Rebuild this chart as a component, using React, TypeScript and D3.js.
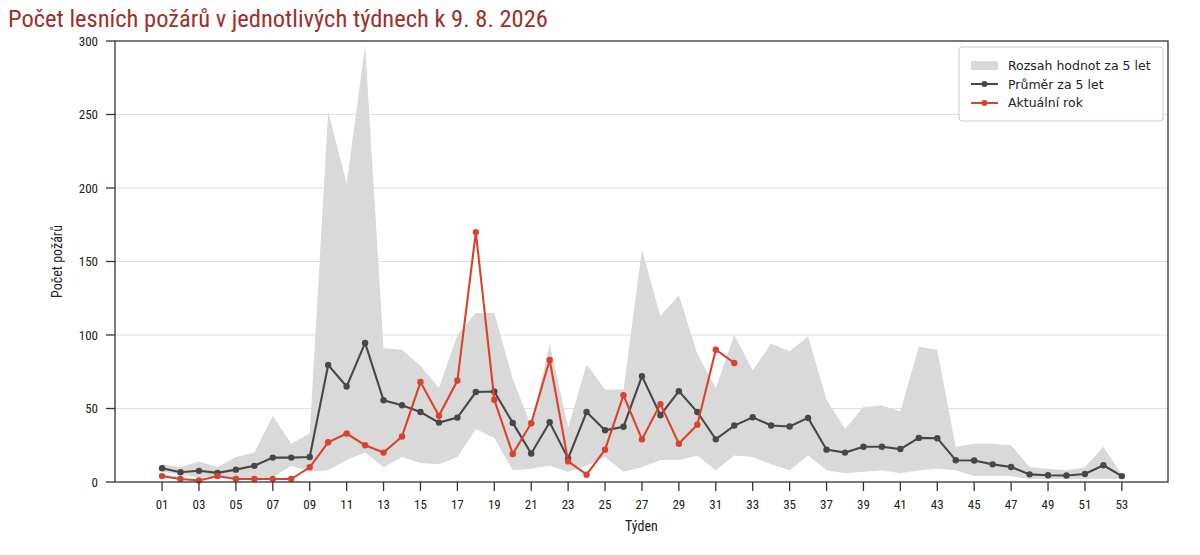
import * as d3 from "d3";

const weeks = [
  1, 2, 3, 4, 5, 6, 7, 8, 9, 10, 11, 12, 13, 14, 15, 16, 17, 18, 19, 20, 21, 22, 23, 24, 25, 26, 27,
  28, 29, 30, 31, 32, 33, 34, 35, 36, 37, 38, 39, 40, 41, 42, 43, 44, 45, 46, 47, 48, 49, 50, 51, 52, 53,
];

const rangeMax = [
  12, 10, 14, 10, 17, 20, 45, 26, 33, 252, 203, 297, 91, 90, 79, 64, 100, 115, 115, 70, 38, 94, 37, 80, 63, 63,
  158, 113, 127, 87, 64, 100, 76, 94, 89, 99, 56, 36, 51, 52, 48, 92, 90, 24, 26, 26, 25, 10, 9, 8, 10, 24, 5,
];

const rangeMin = [
  7, 5, 3, 4, 2, 1, 3, 11, 7, 8, 15, 20, 10, 17, 13, 12, 17, 36, 30, 8, 9, 11, 7, 11, 17, 7, 10, 15, 15, 18, 8,
  18, 17, 12, 8, 18, 8, 6, 7, 8, 6, 8, 9, 8, 4, 4, 4, 2, 2, 2, 2, 2, 2,
];

const avg5 = [
  9.4, 6.6, 7.6, 6.2, 8.4, 11, 16.6, 16.6, 17, 79.6, 65, 94.6, 55.6, 52.2, 47.6, 40.4, 43.8, 61.2, 61.6, 40.2,
  19.4, 40.6, 16, 47.6, 35.2, 37.6, 72, 45.4, 61.8, 47.6, 29, 38.4, 44, 38.4, 37.8, 43.6, 22, 20, 24, 24,
  22.4, 30, 29.8, 14.8, 14.6, 12, 10.2, 5.2, 4.6, 4.4, 5.4, 11.4, 4,
];

const current = [
  4, 2, 1, 4, 2, 2, 2, 2, 10, 27, 33, 25, 20, 31, 68, 45, 69, 170, 56, 19, 40, 83, 14, 5, 22, 59, 29, 53, 26,
  39, 90, 81,
];

const xTicks = [1, 3, 5, 7, 9, 11, 13, 15, 17, 19, 21, 23, 25, 27, 29, 31, 33, 35, 37, 39, 41, 43, 45, 47, 49, 51, 53];
const yTicks = [0, 50, 100, 150, 200, 250, 300];

const legendItems = ["Rozsah hodnot za 5 let", "Průměr za 5 let", "Aktuální rok"];

const W = 1200;
const H = 555;
const plot = { left: 115, right: 1168, top: 41, bottom: 482 };

const RED = "#d9432b";
const DARK = "#474747";
const BAND = "#d9d9d9";
const condensed = "'Liberation Sans Narrow', 'Roboto Condensed', 'Liberation Sans', sans-serif";

export default function App() {
  const x = d3.scaleLinear().domain([-1.55, 55.5]).range([plot.left, plot.right]);
  const y = d3.scaleLinear().domain([0, 300]).range([plot.bottom, plot.top]);

  const band = d3
    .area<number>()
    .x((w) => x(w))
    .y0((_, i) => y(rangeMin[i]))
    .y1((_, i) => y(rangeMax[i]))(weeks);

  const line = d3
    .line<number>()
    .x((_, i) => x(weeks[i]))
    .y((v) => y(v));

  const legX = 959;
  const legY = 47;

  return (
    <svg width={W} height={H} style={{ position: "absolute", left: 0, top: 0 }}>
      <rect width={W} height={H} fill="#fff" />
      <text x={8} y={27} fontFamily={condensed} fontSize={24.5} fill="#9e2f2a">
        Počet lesních požárů v jednotlivých týdnech k 9. 8. 2026
      </text>

      {/* grid */}
      {yTicks.slice(1, -1).map((t) => (
        <line key={t} x1={plot.left} x2={plot.right} y1={y(t)} y2={y(t)} stroke="#e0e0e0" strokeWidth={1} />
      ))}

      <path d={band ?? ""} fill={BAND} />
      <path d={line(avg5) ?? ""} fill="none" stroke={DARK} strokeWidth={2.1} />
      {avg5.map((v, i) => (
        <circle key={"a" + i} cx={x(weeks[i])} cy={y(v)} r={3.2} fill={DARK} />
      ))}
      <path d={line(current) ?? ""} fill="none" stroke={RED} strokeWidth={2.1} />
      {current.map((v, i) => (
        <circle key={"c" + i} cx={x(weeks[i])} cy={y(v)} r={3.2} fill={RED} />
      ))}

      {/* frame */}
      <rect
        x={plot.left}
        y={plot.top}
        width={plot.right - plot.left}
        height={plot.bottom - plot.top}
        fill="none"
        stroke="#333"
        strokeWidth={1.3}
      />

      {/* y axis */}
      {yTicks.map((t) => (
        <g key={t}>
          <line x1={plot.left - 9} x2={plot.left} y1={y(t)} y2={y(t)} stroke="#333" strokeWidth={1.3} />
          <text x={plot.left - 17} y={y(t)} dy="0.35em" textAnchor="end" fontFamily={condensed} fontSize={13} fill="#222">
            {t}
          </text>
        </g>
      ))}
      <text
        transform={`translate(62,${(plot.top + plot.bottom) / 2}) rotate(-90)`}
        textAnchor="middle"
        fontFamily={condensed}
        fontSize={14}
        fill="#222"
      >
        Počet požárů
      </text>

      {/* x axis */}
      {xTicks.map((t) => (
        <g key={t}>
          <line x1={x(t)} x2={x(t)} y1={plot.bottom} y2={plot.bottom + 9} stroke="#333" strokeWidth={1.3} />
          <text x={x(t)} y={plot.bottom + 22} dy="0.35em" textAnchor="middle" fontFamily={condensed} fontSize={13} fill="#222">
            {String(t).padStart(2, "0")}
          </text>
        </g>
      ))}
      <text x={(plot.left + plot.right) / 2} y={531} textAnchor="middle" fontFamily={condensed} fontSize={14} fill="#222">
        Týden
      </text>

      {/* legend */}
      <rect x={legX} y={legY} width={204} height={74} rx={3} fill="#fff" fillOpacity={0.85} stroke="#cccccc" />
      <rect x={legX + 12} y={legY + 14} width={27} height={9} fill={BAND} />
      <line x1={legX + 12} x2={legX + 39} y1={legY + 37} y2={legY + 37} stroke={DARK} strokeWidth={2} />
      <circle cx={legX + 25.5} cy={legY + 37} r={3} fill={DARK} />
      <line x1={legX + 12} x2={legX + 39} y1={legY + 56} y2={legY + 56} stroke={RED} strokeWidth={2} />
      <circle cx={legX + 25.5} cy={legY + 56} r={3} fill={RED} />
      {legendItems.map((s, i) => (
        <text
          key={s}
          x={legX + 49}
          y={legY + 18.5 + i * 18.7}
          dy="0.35em"
          fontFamily="'DejaVu Sans', sans-serif"
          fontSize={12.5}
          fill="#222"
        >
          {s}
        </text>
      ))}
    </svg>
  );
}
